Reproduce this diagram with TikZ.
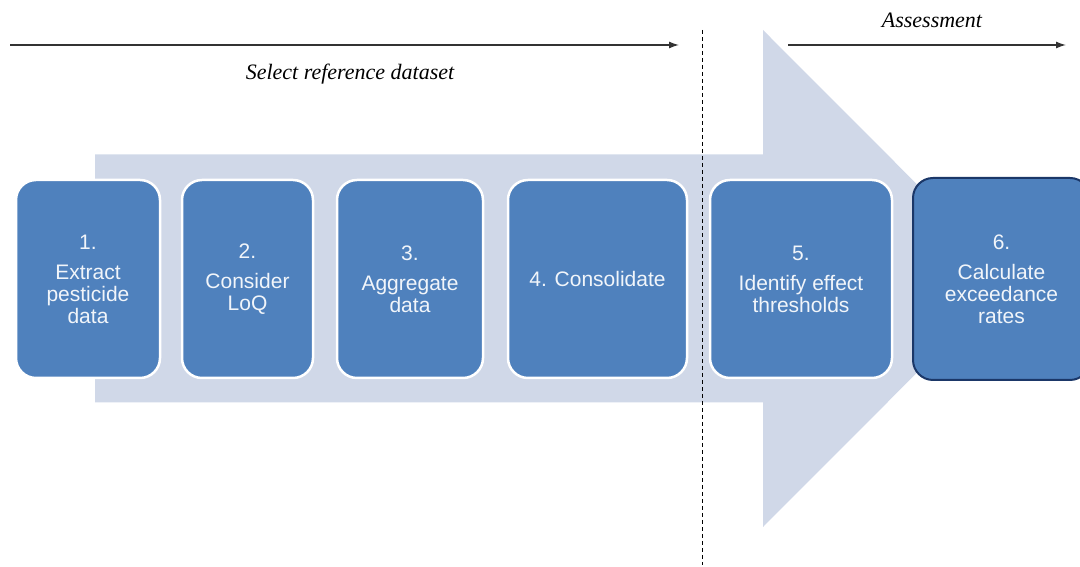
\documentclass[tikz,border=0pt]{standalone}
\usepackage{fontspec}
\setmainfont{Liberation Sans}
\newfontfamily\notefont{Liberation Serif}
\usetikzlibrary{arrows.meta}
\definecolor{stepblue}{HTML}{4F81BD}
\definecolor{flowgrey}{HTML}{D0D8E8}
\definecolor{stepnavy}{HTML}{1B3768}

\begin{document}
\begin{tikzpicture}[x=1pt,y=1pt,
    stepbox/.style={draw=white, line width=2.5pt, fill=stepblue, rounded corners=20pt,
      text=white!92!stepblue, align=center, inner sep=0pt,
      font=\fontsize{21}{22}\selectfont},
    phasearrow/.style={draw=black!80, line width=1.3pt, -{Latex[length=10pt,width=7pt]}},
    phaselabel/.style={font=\notefont\itshape\fontsize{22}{24}\selectfont}]
        \useasboundingbox (0,0) rectangle (1080,567);

        % Flow arrow behind the steps
        \fill[flowgrey] (95,164.5) --(763,164.5) --(763,40) --(1011,288.5) --(763,537)
          --(763,412.5) --(95,412.5) --cycle;

        % Phase split
        \coordinate (splitTop) at (702,537);
        \coordinate (splitBot) at (702,2);
        \draw[black, line width=1pt, dash pattern=on 4pt off 3pt] (splitTop) -- (splitBot);

        % Phases
        \coordinate (selStart) at (10,522);
        \coordinate (selEnd) at (679,522);
        \coordinate (assStart) at (788,522);
        \coordinate (assEnd) at (1066,522);
        \draw[phasearrow] (selStart) -- (selEnd);
        \draw[phasearrow] (assStart) -- (assEnd);
        \node[phaselabel] (selLabel) at (350,493) {Select reference dataset};
        \node[phaselabel] (assLabel) at (932,547) {Assessment};

        % Steps
        \node[stepbox, minimum width=144pt, minimum height=198pt] (extract) at (88,288)
          {1.\\[8pt]Extract\\pesticide\\data};
        \node[stepbox, minimum width=131pt, minimum height=198pt] (loq) at (247.5,288)
          {2.\\[8pt]Consider\\LoQ};
        \node[stepbox, minimum width=146pt, minimum height=198pt] (aggregate) at (410,288)
          {3.\\[8pt]Aggregate\\data};
        \node[stepbox, minimum width=179pt, minimum height=198pt] (consolidate) at (597.5,288)
          {4. Consolidate};
        \node[stepbox, minimum width=182pt, minimum height=198pt] (effect) at (801,288)
          {5.\\[8pt]Identify effect\\thresholds};
        \node[stepbox, draw=stepnavy, line width=2pt, minimum width=177pt, minimum height=202pt]
          (exceed) at (1001.5,288) {6.\\[8pt]Calculate\\exceedance\\rates};
\end{tikzpicture}
\end{document}
